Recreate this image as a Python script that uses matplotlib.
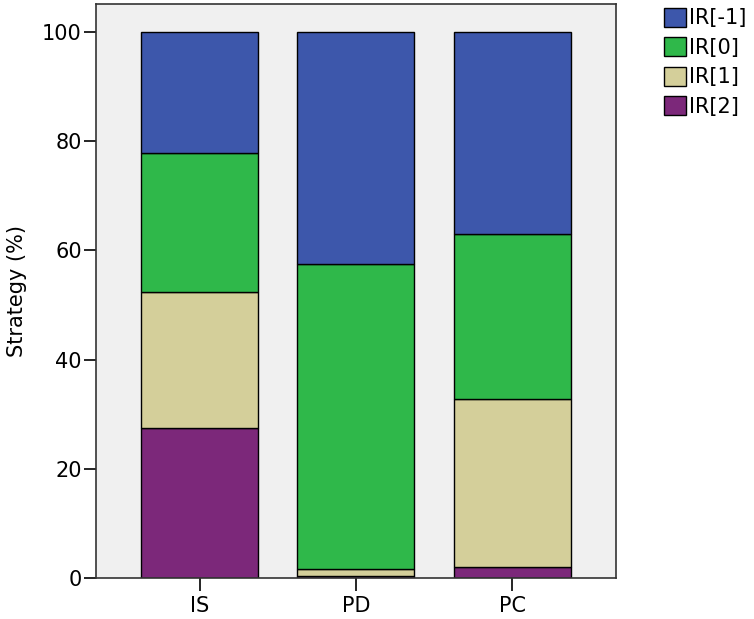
import numpy as np
import matplotlib.pyplot as plt
from matplotlib.patches import Patch

plt.rcParams['font.family'] = ['DejaVu Sans']

# Datos
grupos = ['IS', 'PD', 'PC']
series = ['IR[-1]', 'IR[0]', 'IR[1]', 'IR[2]']
ir2 = [27.5, 0.4, 2.0]
ir1 = [24.9, 1.2, 30.8]
ir0 = [25.4, 55.9, 30.2]
irm1 = [22.2, 42.5, 37.0]

colores = {'IR[-1]': '#3d57ab', 'IR[0]': '#2fb84a', 'IR[1]': '#d4cf9a', 'IR[2]': '#7c287a'}

fig = plt.figure(figsize=(7.54, 6.19), dpi=100)
ax = fig.add_axes([0.127, 0.0662, 0.690, 0.9281])
ax.set_facecolor('#f0f0f0')

x = np.arange(len(grupos))
ancho = 0.75
base = np.zeros(len(grupos))
# de abajo hacia arriba
for nombre, vals in [('IR[2]', ir2), ('IR[1]', ir1), ('IR[0]', ir0), ('IR[-1]', irm1)]:
    ax.bar(x, vals, ancho, bottom=base, color=colores[nombre],
           edgecolor='black', linewidth=1.0)
    base += np.array(vals)

ax.set_xlim(-0.665, 2.665)
ax.set_ylim(0, 105.2)
ax.set_xticks(x)
ax.set_xticklabels(grupos, fontsize=15)
ax.set_yticks([0, 20, 40, 60, 80, 100])
ax.tick_params(axis='y', labelsize=15, length=9, width=1.2, pad=1)
ax.tick_params(axis='x', length=9, width=1.2, pad=4)
ax.set_ylabel('Strategy (%)', fontsize=15, labelpad=11)
for s in ax.spines.values():
    s.set_color('#333333')
    s.set_linewidth(1.2)

handles = [Patch(facecolor=colores[n], edgecolor='black', linewidth=1.0, label=n) for n in series]
fig.legend(handles=handles, loc='upper left', bbox_to_anchor=(0.864, 1.008),
           frameon=False, fontsize=15, handlelength=1.05, handleheight=1.05,
           labelspacing=0.42, handletextpad=0.15, borderaxespad=0.2)

fig.savefig('out.png', dpi=100)
